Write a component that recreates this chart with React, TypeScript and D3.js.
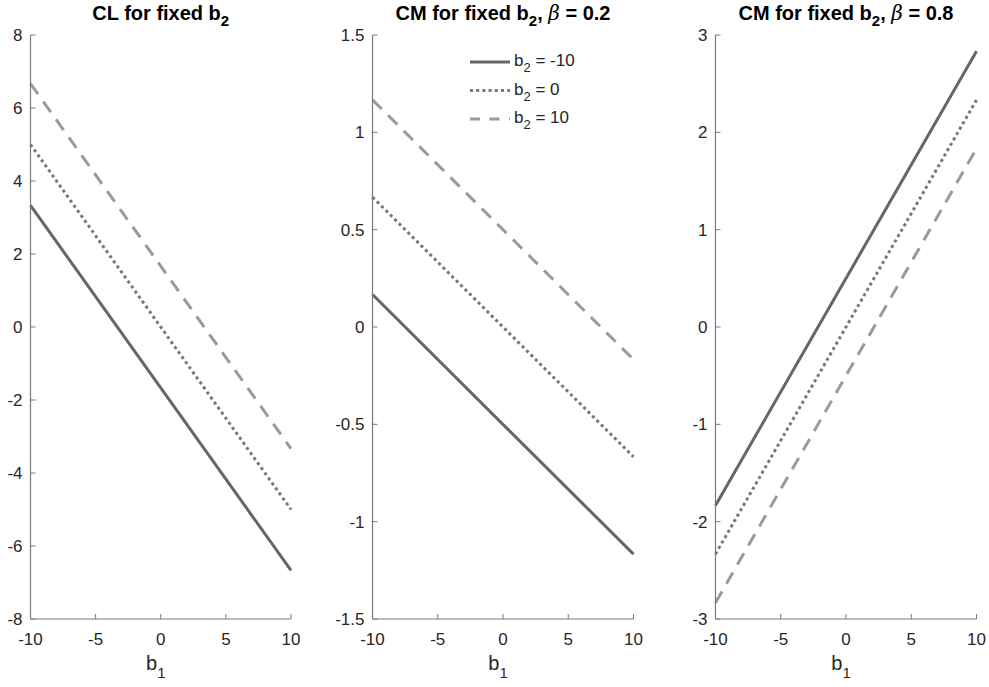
import React from "react";
import * as d3 from "d3";

const b1Domain = [-10, 10];
const xTicks = [-10, -5, 0, 5, 10];
const seriesLabels = ["-10", "0", "10"];

// endpoint values at b1 = -10 and b1 = 10, per panel, per series (b2 = -10, 0, 10)
const clValues = [
  [3.333, -6.667],
  [5.0, -5.0],
  [6.667, -3.333],
];
const cm02Values = [
  [0.167, -1.167],
  [0.667, -0.667],
  [1.167, -0.167],
];
const cm08Values = [
  [-1.833, 2.833],
  [-2.333, 2.333],
  [-2.833, 1.833],
];

const clTicks = [-8, -6, -4, -2, 0, 2, 4, 6, 8];
const cm02Ticks = [-1.5, -1, -0.5, 0, 0.5, 1, 1.5];
const cm08Ticks = [-3, -2, -1, 0, 1, 2, 3];

const styles = [
  { color: "#666666", dash: "none" },
  { color: "#777777", dash: "3 3.2" },
  { color: "#9a9a9a", dash: "13 9" },
];

const W = 989;
const H = 687;
const top = 35;
const bottom = 619;
const FONT = "'Liberation Sans', Arial, Helvetica, sans-serif";
const axisColor = "#7a7a7a";
const textColor = "#262626";

type PanelProps = {
  left: number;
  right: number;
  values: number[][];
  yTicks: number[];
  titleMain: string;
  beta?: string;
  legend?: boolean;
};

function Panel({ left, right, values, yTicks, titleMain, beta, legend }: PanelProps) {
  const x = d3.scaleLinear().domain(b1Domain).range([left, right]);
  const y = d3
    .scaleLinear()
    .domain([yTicks[0], yTicks[yTicks.length - 1]])
    .range([bottom, top]);
  const line = d3
    .line<[number, number]>()
    .x((d) => x(d[0]))
    .y((d) => y(d[1]));
  const cx = (left + right) / 2;
  const fmt = (v: number) => (v === 0 ? "0" : String(v));
  return (
    <g>
      {values.map((v, i) => (
        <path
          key={i}
          d={line([
            [b1Domain[0], v[0]],
            [b1Domain[1], v[1]],
          ]) as string}
          fill="none"
          stroke={styles[i].color}
          strokeWidth={3}
          strokeDasharray={styles[i].dash}
        />
      ))}
      <line x1={left} x2={left} y1={top} y2={bottom} stroke={axisColor} strokeWidth={1.2} />
      <line x1={left} x2={right} y1={bottom} y2={bottom} stroke={axisColor} strokeWidth={1.2} />
      {yTicks.map((t) => (
        <g key={"y" + t}>
          <line x1={left} x2={left + 5} y1={y(t)} y2={y(t)} stroke={axisColor} strokeWidth={1} />
          <text
            x={left - 8}
            y={y(t)}
            dy="0.35em"
            textAnchor="end"
            fontFamily={FONT}
            fontSize={17}
            fill={textColor}
          >
            {fmt(t)}
          </text>
        </g>
      ))}
      {xTicks.map((t) => (
        <g key={"x" + t}>
          <line x1={x(t)} x2={x(t)} y1={bottom} y2={bottom - 5} stroke={axisColor} strokeWidth={1} />
          <text
            x={x(t)}
            y={bottom + 26}
            textAnchor="middle"
            fontFamily={FONT}
            fontSize={17}
            fill={textColor}
          >
            {fmt(t)}
          </text>
        </g>
      ))}
      <text x={cx - 5} y={bottom + 51} textAnchor="middle" fontFamily={FONT} fontSize={20} fill={textColor}>
        b<tspan fontSize={15} dy={8}>1</tspan>
      </text>
      <text x={cx} y={20} textAnchor="middle" fontFamily={FONT} fontSize={20} fontWeight="bold" fill="#000">
        {titleMain}
        <tspan fontSize={15} dy={6}>2</tspan>
        {beta ? (
          <>
            <tspan dy={-6}>, </tspan>
            <tspan fontStyle="italic" fontWeight="normal" fontFamily="'DejaVu Serif', serif">β</tspan>
            <tspan>{" = " + beta}</tspan>
          </>
        ) : null}
      </text>
      {legend
        ? seriesLabels.map((lab, i) => {
            const ly = 62 + i * 28.5;
            return (
              <g key={"lg" + i}>
                <line
                  x1={470}
                  x2={510}
                  y1={ly}
                  y2={ly}
                  stroke={styles[i].color}
                  strokeWidth={3}
                  strokeDasharray={i === 2 ? "10 9.5" : styles[i].dash}
                />
                <text x={514} y={ly + 4} fontFamily={FONT} fontSize={17} fill={textColor}>
                  b<tspan fontSize={13} dy={6}>2</tspan>
                  <tspan dy={-6}>{" = " + lab}</tspan>
                </text>
              </g>
            );
          })
        : null}
    </g>
  );
}

export default function App() {
  return (
    <svg width={W} height={H} style={{ position: "absolute", left: 0, top: 0, background: "#fff" }}>
      <rect x={0} y={0} width={W} height={H} fill="#fff" />
      <Panel left={30.5} right={291} values={clValues} yTicks={clTicks} titleMain="CL for fixed b" />
      <Panel
        left={372.5}
        right={633.5}
        values={cm02Values}
        yTicks={cm02Ticks}
        titleMain="CM for fixed b"
        beta="0.2"
        legend
      />
      <Panel
        left={715.5}
        right={976.5}
        values={cm08Values}
        yTicks={cm08Ticks}
        titleMain="CM for fixed b"
        beta="0.8"
      />
    </svg>
  );
}
